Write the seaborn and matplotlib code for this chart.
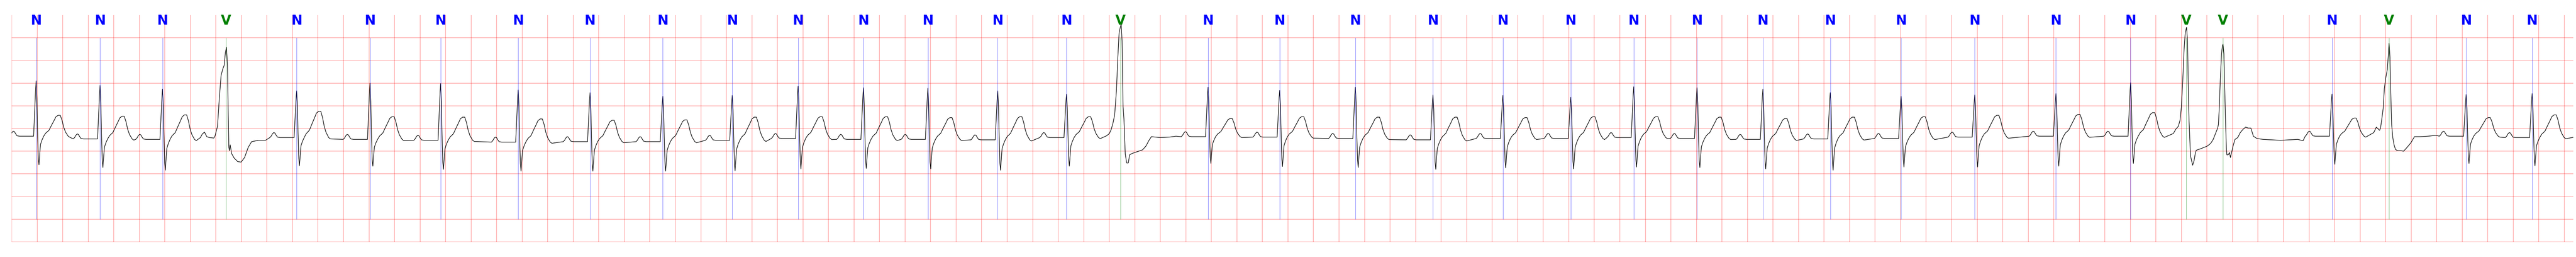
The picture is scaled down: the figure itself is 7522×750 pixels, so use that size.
import numpy as np
import pandas as pd
import seaborn as sns
import matplotlib.pyplot as plt

# beat annotations: R peak time (s) and beat label
beat_times = [0.192, 0.693, 1.182, 1.679, 2.233, 2.808, 3.361, 3.969, 4.532, 5.102,
              5.646, 6.162, 6.674, 7.179, 7.726, 8.265, 8.689, 9.374, 9.935, 10.528,
              11.136, 11.684, 12.216, 12.709, 13.205, 13.721, 14.249, 14.804, 15.381,
              16.017, 16.602, 17.037, 17.326, 18.180, 18.627, 19.231, 19.748]
beat_labels = ["N", "N", "N", "V", "N", "N", "N", "N", "N", "N",
               "N", "N", "N", "N", "N", "N", "V", "N", "N", "N",
               "N", "N", "N", "N", "N", "N", "N", "N", "N",
               "N", "N", "V", "V", "N", "V", "N", "N"]
label_colors = {"N": "blue", "V": "green"}

# levels of the normal beats (mV), in the order they appear
n_base = [-0.17, -0.23, -0.24, -0.20, -0.24, -0.26, -0.30, -0.29, -0.29, -0.26,
          -0.22, -0.24, -0.24, -0.25, -0.20, -0.18, -0.19, -0.22, -0.25, -0.22,
          -0.22, -0.20, -0.22, -0.24, -0.23, -0.22, -0.19, -0.17, -0.17, -0.17,
          -0.17, -0.20]
n_r = [1.05, 0.95, 0.87, 0.83, 1.00, 0.99, 0.85, 0.79, 0.71, 0.73,
       0.93, 0.90, 0.89, 0.83, 0.76, 0.91, 0.84, 0.91, 0.74, 0.73,
       0.69, 0.92, 0.90, 0.87, 0.79, 0.71, 0.74, 0.77, 1.01, 0.76,
       0.75, 0.77]
n_s = [-0.80, -0.86, -0.92, -0.82, -0.83, -0.90, -0.94, -0.94, -0.94, -0.93,
       -0.89, -0.88, -0.89, -0.92, -0.83, -0.77, -0.84, -0.86, -0.90, -0.87,
       -0.89, -0.85, -0.86, -0.89, -0.92, -0.85, -0.85, -0.83, -0.77, -0.79,
       -0.77, -0.82]
n_t = [0.29, 0.27, 0.30, 0.38, 0.26, 0.25, 0.21, 0.18, 0.19, 0.25,
       0.26, 0.26, 0.24, 0.26, 0.26, 0.22, 0.26, 0.25, 0.25, 0.24,
       0.26, 0.26, 0.25, 0.22, 0.25, 0.26, 0.29, 0.31, 0.35, 0.23,
       0.24, 0.30]

# outline of a normal beat (time relative to R)
p_dt = [-0.21, -0.20, -0.19, -0.18, -0.17, -0.16, -0.15, -0.13, -0.02]
p_off = [0.0, 0.03, 0.08, 0.11, 0.10, 0.05, 0.01, 0.0, 0.0]
up_dt = [-0.010, -0.004, 0.0, 0.006, 0.011]
up_frac = [0.53, 0.86, 1.0, 0.68, 0.09]
dn_dt = [0.017, 0.022, 0.028, 0.034, 0.045]
dn_frac = [0.75, 1.0, 0.62, 0.29, 0.14]
tw_dt = [0.059, 0.075, 0.100, 0.120, 0.141, 0.155, 0.172, 0.189, 0.203, 0.216,
         0.230, 0.251, 0.264]
tw_frac = [0.0, 0.15, 0.28, 0.52, 0.76, 0.93, 1.0, 1.0, 0.76, 0.43, 0.2, 0.0, -0.05]

# ventricular beats, point by point (time relative to R, mV)
v_dt = {
    3: [-0.20, -0.185, -0.168, -0.15, -0.13, -0.095, -0.086, -0.066, -0.052, -0.038,
        -0.025, -0.014, -0.004, 0.004, 0.012, 0.018, 0.023, 0.027, 0.033, 0.044,
        0.064, 0.092, 0.119, 0.146, 0.174, 0.201, 0.256, 0.31],
    16: [-0.11, -0.088, -0.074, -0.060, -0.047, -0.033, -0.022, -0.012, -0.005, 0.004,
         0.011, 0.019, 0.026, 0.036, 0.047, 0.060, 0.070, 0.090, 0.131, 0.172,
         0.200, 0.220, 0.241, 0.309, 0.38, 0.433],
    31: [-0.10, -0.082, -0.061, -0.048, -0.037, -0.027, -0.016, -0.007, 0.003, 0.011,
         0.018, 0.023, 0.034, 0.051, 0.062, 0.071, 0.079, 0.110, 0.164, 0.192,
         0.212, 0.233],
    32: [-0.042, -0.036, -0.029, -0.022, -0.012, -0.005, 0.0, 0.007, 0.012, 0.019,
         0.026, 0.030, 0.040, 0.051, 0.058, 0.067, 0.081, 0.094, 0.115, 0.135,
         0.156, 0.177, 0.197, 0.218, 0.238, 0.265, 0.313, 0.45, 0.586, 0.627],
    34: [-0.12, -0.10, -0.0745, -0.067, -0.056, -0.046, -0.037, -0.027, -0.014, -0.007,
         0.0, 0.007, 0.015, 0.020, 0.029, 0.039, 0.050, 0.066, 0.093, 0.114,
         0.146, 0.172, 0.199, 0.242, 0.305, 0.369],
}
v_mv = {
    3: [-0.20, -0.12, -0.08, -0.18, -0.20, -0.21, -0.17, 0.05, 0.66, 1.17,
        1.31, 1.39, 1.68, 1.79, 1.39, 0.30, -0.42, -0.49, -0.36, -0.55,
        -0.65, -0.73, -0.74, -0.64, -0.42, -0.29, -0.26, -0.26],
    16: [-0.16, -0.11, -0.02, 0.12, 0.30, 0.84, 1.57, 2.11, 2.20, 2.31,
         1.93, 0.48, 0.19, -0.56, -0.76, -0.76, -0.58, -0.55, -0.51, -0.47,
         -0.38, -0.27, -0.18, -0.20, -0.19, -0.17],
    31: [-0.11, -0.02, 0.05, 0.18, 0.48, 1.03, 1.75, 2.11, 2.23, 1.93,
         0.66, 0.16, -0.60, -0.81, -0.71, -0.56, -0.48, -0.45, -0.39, -0.33,
         -0.24, -0.09],
    32: [0.01, 0.09, 0.48, 1.03, 1.64, 1.82, 1.86, 1.64, 1.03, 0.23,
         -0.42, -0.58, -0.58, -0.53, -0.64, -0.53, -0.36, -0.24, -0.20, -0.09,
         -0.02, 0.03, 0.01, 0.01, -0.17, -0.22, -0.24, -0.26, -0.24, -0.27],
    34: [-0.09, 0.03, -0.04, 0.01, 0.23, 0.45, 0.88, 1.10, 1.30, 1.57,
         1.88, 1.57, 0.59, 0.09, -0.20, -0.36, -0.46, -0.49, -0.49, -0.50,
         -0.40, -0.31, -0.18, -0.18, -0.17, -0.15],
}
trace_end_t = 20.08
trace_end_mv = -0.19

# put the trace together beat by beat
times, volts = [], []
k = 0
for i, t0 in enumerate(beat_times):
    if beat_labels[i] == "N":
        b, r, s, tw = n_base[k], n_r[k], n_s[k], n_t[k]
        k += 1
        for dt, off in zip(p_dt, p_off):
            times.append(t0 + dt); volts.append(b + off)
        for dt, f in zip(up_dt, up_frac):
            times.append(t0 + dt); volts.append(b + f * (r - b))
        for dt, f in zip(dn_dt, dn_frac):
            times.append(t0 + dt); volts.append(b + f * (s - b))
        for dt, f in zip(tw_dt, tw_frac):
            times.append(t0 + dt); volts.append(b + f * (tw - b))
    else:
        for dt, mv in zip(v_dt[i], v_mv[i]):
            times.append(t0 + dt); volts.append(mv)
times.append(trace_end_t); volts.append(trace_end_mv)

ecg = pd.DataFrame({"t": times, "mv": volts})

sns.set_style("white")
fig = plt.figure(figsize=(75.22, 7.5), dpi=100)
ax = fig.add_axes([34 / 7522, 44 / 750, 7480 / 7522, 662 / 750])

sns.lineplot(data=ecg, x="t", y="mv", color="black", linewidth=1.2,
             estimator=None, sort=False, ax=ax)

for t0, lab in zip(beat_times, beat_labels):
    c = label_colors[lab]
    ax.vlines(t0, -2.0, 2.0, colors=c, linewidth=0.8, alpha=0.6)
    ax.text(t0, 2.29, lab, color=c, fontsize=28, fontweight="bold",
            ha="center", va="baseline",
            family=["Liberation Sans Narrow", "DejaVu Sans"])

ax.set_xlim(0, 20.07)
ax.set_ylim(-2.5, 2.5)
ax.set_xticks(np.arange(0, 20.07, 0.2))
ax.set_yticks(np.arange(-2.5, 2.5, 0.5))
ax.grid(True, color="red", alpha=0.3, linewidth=1.5)
ax.tick_params(length=0, labelbottom=False, labelleft=False)
ax.set_xlabel("")
ax.set_ylabel("")
for sp in ax.spines.values():
    sp.set_visible(False)

fig.savefig("out.png", dpi=100)
